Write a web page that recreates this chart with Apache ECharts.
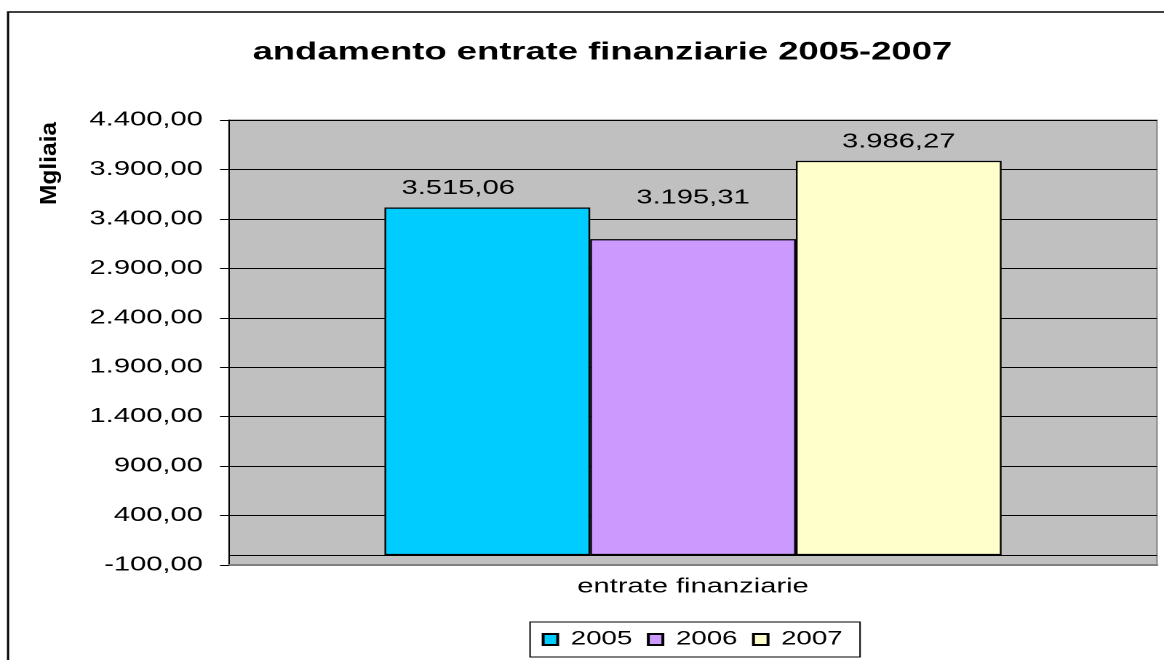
<!DOCTYPE html>
<html>
<head>
<meta charset="utf-8">
<title>andamento entrate finanziarie 2005-2007</title>
<script src="https://cdn.jsdelivr.net/npm/echarts@6/dist/echarts.min.js"></script>
<style>
    html, body { margin: 0; padding: 0; background: #fff; overflow: hidden; }
    /* the original picture is stretched sideways, so draw narrower and stretch */
    #entrateChart { width: 800px; height: 660px; transform: scaleX(1.455); transform-origin: 0 0; }
</style>
</head>
<body>
<div id="entrateChart"></div>
<script>
var categories = ['entrate finanziarie'];
var years = ['2005', '2006', '2007'];
var values2005 = [3515.06];
var values2006 = [3195.31];
var values2007 = [3986.27];
var yMin = -100, yMax = 4400, yStep = 500;

// formato italiano: 3.515,06
function fmtIt(v) {
    var parts = Math.abs(v).toFixed(2).split('.');
    var intPart = parts[0].replace(/\B(?=(\d{3})+(?!\d))/g, '.');
    return (v < 0 ? '-' : '') + intPart + ',' + parts[1];
}

function initChart() {
    var font = '"Liberation Sans", Arial, sans-serif';
    var chart = echarts.init(document.getElementById('entrateChart'), null, {devicePixelRatio: 2});
    var barStyle = function (color) {
        return {color: color, borderColor: '#000', borderWidth: 1.2};
    };
    var labelStyle = function (offset) {
        return {
            show: true,
            position: 'top',
            distance: 9,
            offset: offset,
            color: '#000',
            fontSize: 20,
            fontFamily: font,
            formatter: function (p) { return fmtIt(p.value); }
        };
    };
    var option = {
        animation: false,
        title: {
            text: 'andamento entrate finanziarie 2005-2007',
            left: 409,
            top: 35,
            textAlign: 'center',
            textStyle: {color: '#000', fontSize: 25, fontWeight: 'bold', fontFamily: font}
        },
        graphic: [{
            type: 'rect',
            z: -10,
            shape: {x: 5.5, y: 12, width: 1000, height: 1000},
            style: {fill: 'none', stroke: '#000', lineWidth: 1.5}
        }, {
            type: 'text',
            x: 34.4,
            y: 163.5,
            rotation: Math.PI / 2,
            scaleY: 0.63,
            style: {
                text: 'Mgliaia',
                fill: '#000',
                fontSize: 24.5,
                fontWeight: 'bold',
                fontFamily: font,
                textAlign: 'center',
                textVerticalAlign: 'middle'
            }
        }],
        legend: {
            data: years,
            icon: 'rect',
            left: 364.3,
            top: 622,
            padding: [8, 12, 8, 8],
            itemGap: 10,
            itemWidth: 10,
            itemHeight: 11,
            borderColor: '#000',
            borderWidth: 1,
            textStyle: {color: '#000', fontSize: 19, fontFamily: font, padding: [0, 0, 0, 4]}
        },
        grid: {
            left: 157.4,
            right: 4.8,
            top: 120,
            bottom: 95,
            show: true,
            backgroundColor: '#C0C0C0',
            borderColor: '#808080',
            borderWidth: 1
        },
        xAxis: {
            type: 'category',
            data: categories,
            axisLine: {onZero: false, lineStyle: {color: '#808080', width: 2}},
            axisTick: {show: false},
            axisLabel: {color: '#000', fontSize: 20, fontFamily: font, margin: 12},
            splitLine: {show: false}
        },
        yAxis: {
            type: 'value',
            min: yMin,
            max: yMax,
            interval: yStep,
            axisLine: {show: true, lineStyle: {color: '#000', width: 1}},
            axisTick: {show: true, length: 6.2, lineStyle: {color: '#000'}},
            axisLabel: {color: '#000', fontSize: 20, fontFamily: font, margin: 18, formatter: fmtIt},
            splitLine: {show: true, lineStyle: {color: '#000', width: 1}}
        },
        series: [{
            name: years[0],
            type: 'bar',
            barGap: 0,
            barCategoryGap: '33.5%',
            data: values2005,
            itemStyle: barStyle('#00CCFF'),
            label: labelStyle([-20, 0]),
            markLine: {
                silent: true,
                symbol: ['none', 'none'],
                label: {show: false},
                lineStyle: {color: '#000', type: 'solid', width: 1},
                data: [{yAxis: 0}]
            }
        }, {
            name: years[1],
            type: 'bar',
            barGap: 0,
            barCategoryGap: '33.5%',
            data: values2006,
            itemStyle: barStyle('#CC99FF'),
            label: labelStyle([0, -22])
        }, {
            name: years[2],
            type: 'bar',
            barGap: 0,
            barCategoryGap: '33.5%',
            data: values2007,
            itemStyle: barStyle('#FFFFCC'),
            label: labelStyle([0, 0])
        }]
    };
    chart.setOption(option);
    window.addEventListener('resize', chart.resize);
}
initChart();
</script>
</body>
</html>
